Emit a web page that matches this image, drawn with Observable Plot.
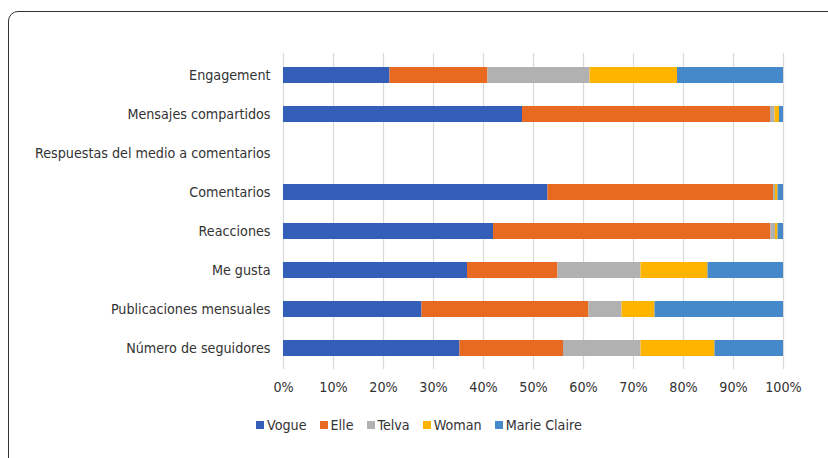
<!DOCTYPE html>
<html>
<head>
<meta charset="utf-8">
<script src="https://cdn.jsdelivr.net/npm/d3@7"></script>
<script src="https://cdn.jsdelivr.net/npm/@observablehq/plot@0.6"></script>
<style>
  html, body { margin: 0; padding: 0; background: #fff; width: 828px; height: 458px; overflow: hidden; }
  body { position: relative; font-family: "DejaVu Sans Condensed", "DejaVu Sans", sans-serif; }
  #frame { position: absolute; left: 8px; top: 11px; width: 900px; height: 500px; border: 1.5px solid #333; border-radius: 10px; box-sizing: border-box; }
  #chart { position: absolute; left: 0; top: 0; }
  #legend { position: absolute; left: 256px; top: 417px; display: flex; gap: 13px; font-size: 14.2px; color: #333; align-items: center; }
  #legend .item { display: flex; align-items: center; gap: 3px; }
  #legend .sw { width: 8px; height: 8px; display: inline-block; }
</style>
</head>
<body>
<div id="frame"></div>
<div id="chart"></div>
<div id="legend"></div>
<script>
const categories = [
  "Engagement",
  "Mensajes compartidos",
  "Respuestas del medio a comentarios",
  "Comentarios",
  "Reacciones",
  "Me gusta",
  "Publicaciones mensuales",
  "Número de seguidores"
];
const series = ["Vogue", "Elle", "Telva", "Woman", "Marie Claire"];
const colors = ["#335FB8", "#E86A21", "#B1B1B1", "#FFB400", "#4589CA"];
// percentage share of each magazine per category (same order as categories)
const vogue       = [21.3, 47.8, 0, 52.9, 42.0, 36.8, 27.7, 35.3];
const elle        = [19.6, 49.6, 0, 45.1, 55.5, 18.1, 33.4, 20.7];
const telva       = [20.4,  0.9, 0,  0.4,  0.9, 16.6,  6.6, 15.5];
const woman       = [17.5,  0.9, 0,  0.5,  0.5, 13.4,  6.6, 14.8];
const marieClaire = [21.2,  0.8, 0,  1.1,  1.1, 15.1, 25.7, 13.7];
const xTicks = [0, 0.1, 0.2, 0.3, 0.4, 0.5, 0.6, 0.7, 0.8, 0.9, 1.0];

const seriesValues = [vogue, elle, telva, woman, marieClaire];
const data = [];
categories.forEach((c, i) => {
  series.forEach((s, j) => {
    data.push({category: c, series: s, value: seriesValues[j][i] / 100});
  });
});

const chart = Plot.plot({
  width: 828,
  height: 400,
  marginLeft: 283,
  marginRight: 45,
  marginTop: 53,
  marginBottom: 31,
  style: {fontFamily: "'DejaVu Sans Condensed', 'DejaVu Sans', sans-serif", fontSize: "14.2px", color: "#333", background: "transparent"},
  x: {domain: [0, 1], ticks: xTicks, label: null},
  y: {domain: categories, label: null, paddingInner: 0.6, paddingOuter: 0.3},
  color: {domain: series, range: colors},
  marks: [
    Plot.gridX(xTicks, {stroke: "#d9d9d9", strokeOpacity: 1, strokeWidth: 1.2}),
    Plot.barX(data, Plot.stackX({x: "value", y: "category", fill: "series", order: series})),
    Plot.axisX({ticks: xTicks, tickFormat: d => Math.round(d * 100) + "%", tickSize: 0, tickPadding: 12, label: null, fill: "#333"}),
    Plot.axisY({tickSize: 0, tickPadding: 13, label: null, fill: "#333"})
  ]
});
document.getElementById("chart").appendChild(chart);

const legend = document.getElementById("legend");
series.forEach((s, j) => {
  const item = document.createElement("span");
  item.className = "item";
  const sw = document.createElement("span");
  sw.className = "sw";
  sw.style.background = colors[j];
  item.appendChild(sw);
  item.appendChild(document.createTextNode(s));
  legend.appendChild(item);
});
</script>
</body>
</html>
